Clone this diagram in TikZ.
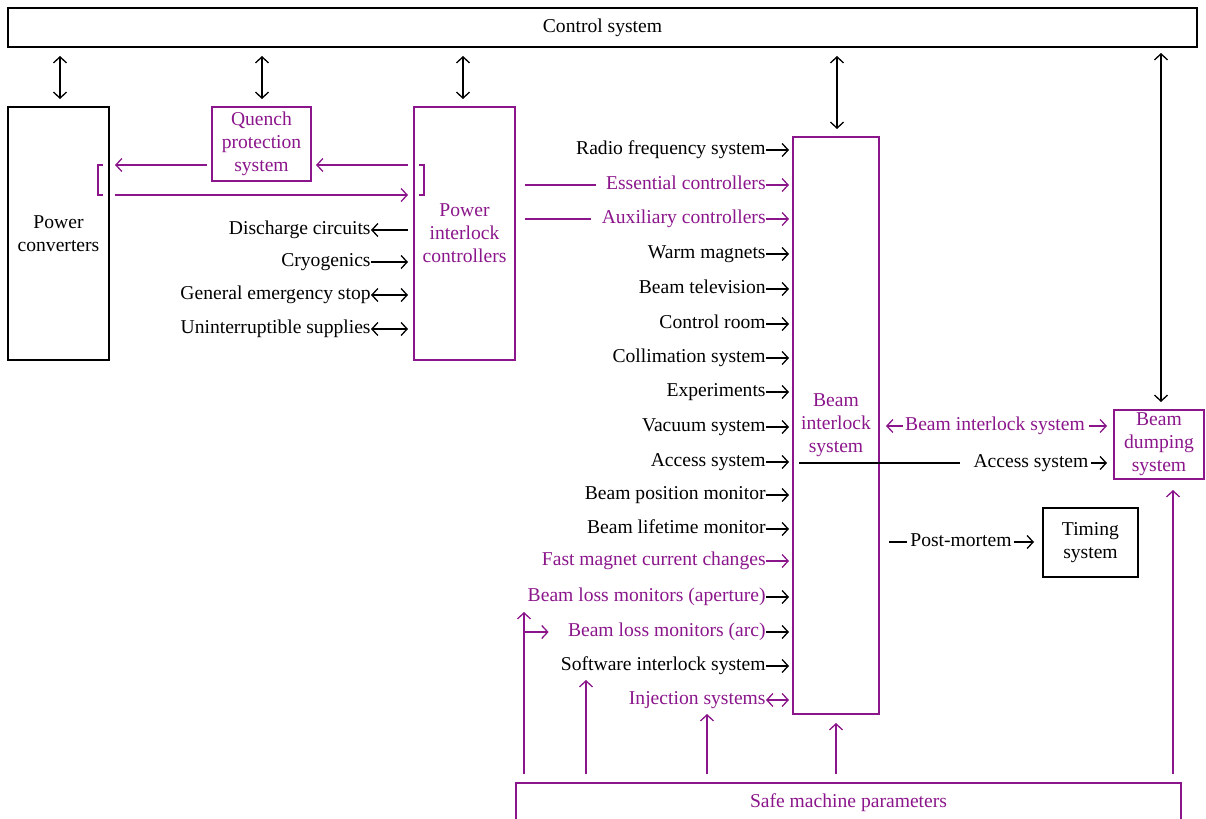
\documentclass[tikz,border=0pt]{standalone}
\usepackage{fontspec}
\setmainfont{Liberation Serif}
\usetikzlibrary{arrows.meta}
\definecolor{plum}{RGB}{139,22,139}
\begin{document}
\begin{tikzpicture}[x=0.5pt,y=-0.5pt,
  font=\fontsize{9.8}{11.5}\selectfont,
  box/.style={draw, line width=1pt, inner sep=0pt, align=center},
  pbox/.style={box, draw=plum, text=plum},
  line/.style={line width=0.65pt},
  arr/.style={line, -{Straight Barb[length=3pt,width=6.5pt]}},
  larr/.style={line, {Straight Barb[length=3pt,width=6.5pt]}-},
  darr/.style={line, {Straight Barb[length=3pt,width=6.5pt]}-{Straight Barb[length=3pt,width=6.5pt]}},
  lab/.style={anchor=mid east, inner sep=0pt},
  plab/.style={lab, text=plum}]
\useasboundingbox (0,0) rectangle (1206,819);

% ---- boxes ----
\node[box, minimum width=594.5pt, minimum height=19.5pt] (ctrl) at (602.5,27.5) {Control system};
\node[box, minimum width=50.5pt, minimum height=126.5pt] (pc) at (58.5,233.5) {Power\\converters};
\node[pbox, minimum width=49.5pt, minimum height=37pt] (qps) at (261.5,144) {Quench\\protection\\system};
\node[pbox, minimum width=50.5pt, minimum height=126.5pt] (pic) at (464.5,233.5) {Power\\interlock\\controllers};
\node[pbox, minimum width=43pt, minimum height=288.5pt] (bis) at (836,425.5) {Beam\\interlock\\system};
\node[pbox, minimum width=45pt, minimum height=34.5pt] (bds) at (1159,444.5) {Beam\\dumping\\system};
\node[box, minimum width=47.5pt, minimum height=34.5pt] (tim) at (1090.5,542.5) {Timing\\system};
\node[pbox, minimum width=332.5pt, minimum height=20pt] (smp) at (848.5,803) {Safe machine parameters};

% ---- links to the control system ----
\draw[darr, shorten <=4pt, shorten >=3.5pt] (ctrl.south -| 60,0) -- (pc.north -| 60,0);
\draw[darr, shorten <=4pt, shorten >=3.5pt] (ctrl.south -| 262,0) -- (qps.north -| 262,0);
\draw[darr, shorten <=4pt, shorten >=3.5pt] (ctrl.south -| 463,0) -- (pic.north -| 463,0);
\draw[darr, shorten <=4pt, shorten >=3.5pt] (ctrl.south -| 837,0) -- (bis.north -| 837,0);
\draw[darr, shorten <=2.5pt, shorten >=3.5pt] (ctrl.south -| 1161,0) -- (bds.north -| 1161,0);

% ---- power converters / quench protection / power interlock ----
\draw[plum, arr, shorten <=2.5pt, shorten >=2pt] (pic.west |- 0,165) -- (qps.east |- 0,165);
\draw[plum, arr, shorten <=2pt, shorten >=2.5pt] (qps.west |- 0,165) -- (pc.east |- 0,165);
\draw[plum, arr, shorten <=2.5pt, shorten >=2.5pt] (pc.east |- 0,195) -- (pic.west |- 0,195);
\draw[plum, line] (103,165) -- (98,165) -- (98,195) -- (103,195);
\draw[plum, line] (419,165) -- (424,165) -- (424,195) -- (419,195);

\node[lab] (dis) at (371,230) {Discharge circuits};
\node[lab] (cry) at (371,262) {Cryogenics};
\node[lab] (ges) at (371,295) {General emergency stop};
\node[lab] (ups) at (371,329) {Uninterruptible supplies};
\draw[larr, shorten >=2.5pt] (dis.mid east) -- (dis.mid east -| pic.west);
\draw[arr, shorten >=2.5pt] (cry.mid east) -- (cry.mid east -| pic.west);
\draw[darr, shorten >=2.5pt] (ges.mid east) -- (ges.mid east -| pic.west);
\draw[darr, shorten >=2.5pt] (ups.mid east) -- (ups.mid east -| pic.west);

% ---- inputs of the beam interlock system ----
\node[lab]  (rf)  at (766,150) {Radio frequency system};
\node[plab] (ess) at (766,185) {Essential controllers};
\node[plab] (aux) at (766,219) {Auxiliary controllers};
\node[lab]  (wm)  at (766,254) {Warm magnets};
\node[lab]  (btv) at (766,289) {Beam television};
\node[lab]  (cr)  at (766,324) {Control room};
\node[lab]  (col) at (766,358) {Collimation system};
\node[lab]  (exp) at (766,392) {Experiments};
\node[lab]  (vac) at (766,427) {Vacuum system};
\node[lab]  (acc) at (766,462) {Access system};
\node[lab]  (bpm) at (766,495) {Beam position monitor};
\node[lab]  (blt) at (766,529) {Beam lifetime monitor};
\node[plab] (fmc) at (766,561) {Fast magnet current changes};
\node[plab] (blap) at (766,597) {Beam loss monitors (aperture)};
\node[plab] (blc) at (766,632) {Beam loss monitors (arc)};
\node[lab]  (sis) at (766,666) {Software interlock system};
\node[plab] (inj) at (766,700) {Injection systems};

\foreach \n in {rf,wm,btv,cr,col,exp,vac,acc,bpm,blt,blap,blc,sis}
  \draw[arr, shorten >=1.5pt] (\n.mid east) -- (\n.mid east -| bis.west);
\foreach \n in {ess,aux,fmc}
  \draw[plum, arr, shorten >=1.5pt] (\n.mid east) -- (\n.mid east -| bis.west);
\draw[plum, darr, shorten >=1.5pt] (inj.mid east) -- (inj.mid east -| bis.west);
\draw[plum, line, shorten <=4.5pt, shorten >=5pt] (ess.mid west -| pic.east) -- (ess.mid west);
\draw[plum, line, shorten <=4.5pt, shorten >=5pt] (aux.mid west -| pic.east) -- (aux.mid west);

% ---- outputs of the beam interlock system ----
\node[text=plum, inner sep=0pt, anchor=mid] (bil) at (995,426) {Beam interlock system};
\draw[plum, arr, shorten <=1pt, shorten >=3pt] (bil.mid west) -- (bil.mid west -| bis.east);
\draw[plum, arr, shorten <=2pt, shorten >=3pt] (bil.mid east) -- (bil.mid east -| bds.west);

\node[inner sep=0pt, anchor=mid] (acr) at (1031,463) {Access system};
\draw[line, shorten <=3.5pt, shorten >=6.5pt] (acr.mid west -| bis.west) -- (acr.mid west);
\draw[arr, shorten <=1pt, shorten >=3pt] (acr.mid east) -- (acr.mid east -| bds.west);

\node[inner sep=0pt, anchor=mid] (pm) at (961,542) {Post-mortem};
\draw[line, shorten <=4.5pt, shorten >=1.5pt] (pm.mid west -| bis.east) -- (pm.mid west);
\draw[arr, shorten <=1pt, shorten >=4pt] (pm.mid east) -- (pm.mid east -| tim.west);

% ---- safe machine parameters distribution ----
\coordinate (ta) at (524,612);
\coordinate (tb) at (586,680);
\coordinate (tc) at (707,714);
\draw[plum, arr, shorten <=4pt] (smp.north -| ta) -- (ta);
\draw[plum, arr, shorten >=9.5pt] (blc.mid west -| ta) -- (blc.mid west);
\draw[plum, arr, shorten <=4pt] (smp.north -| tb) -- (tb);
\draw[plum, arr, shorten <=4pt] (smp.north -| tc) -- (tc);
\draw[plum, arr, shorten <=4pt, shorten >=4pt] (smp.north -| bis.south) -- (bis.south);
\draw[plum, arr, shorten <=4pt, shorten >=5pt] (smp.north -| 1173,0) -- (bds.south -| 1173,0);
\end{tikzpicture}
\end{document}
